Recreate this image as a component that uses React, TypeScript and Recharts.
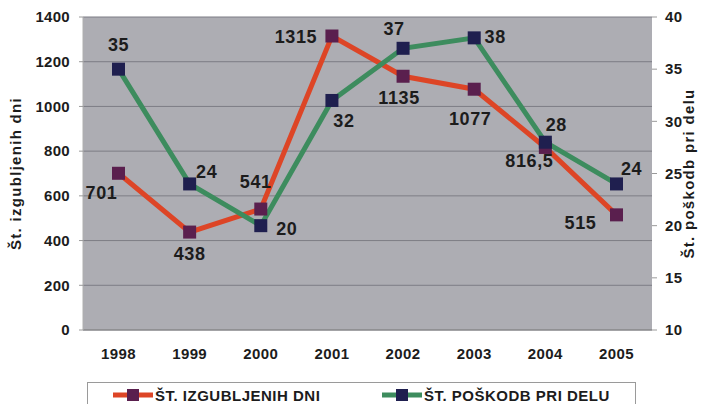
import React from 'react';
import { LineChart, Line, XAxis, YAxis, CartesianGrid, Legend, LabelList } from 'recharts';

const years = ['1998', '1999', '2000', '2001', '2002', '2003', '2004', '2005'];
const lostDays = [701, 438, 541, 1315, 1135, 1077, 816.5, 515];
const injuries = [35, 24, 20, 32, 37, 38, 28, 24];
const leftTicks = [0, 200, 400, 600, 800, 1000, 1200, 1400];
const rightTicks = [10, 15, 20, 25, 30, 35, 40];

const seriesNames = ['ŠT. IZGUBLJENIH DNI', 'ŠT. POŠKODB PRI DELU'];
const leftTitle = 'Št. izgubljenih dni';
const rightTitle = 'Št. poškodb pri delu';

// label placement offsets (dx, dy) relative to point
const daysLabelOffsets = [[-17, 20], [0, 22], [-5, -27], [-36, 1], [-4, 22], [-4, 30], [-16, 14], [-36, 8]];
const injLabelOffsets = [[0, -24], [17, -12], [26, 3], [12, 21], [-9, -19], [21, -1], [11, -17], [15, -15]];

const data = years.map((y, i) => ({ year: y, days: lostDays[i], injuries: injuries[i] }));

const RED = '#dd4526';
const GREEN = '#3d8c5e';
const RED_MARK = '#5a1f4e';
const GREEN_MARK = '#1f1f4f';
const TEXT = '#1c1c1c';
const FONT = 'Arial, "Liberation Sans", sans-serif';

const square = (fill: string) => (props: any) => {
  const { cx, cy, index } = props;
  if (cx == null || cy == null) return <g key={`e${index}`} />;
  return <rect key={`sq${index}`} x={cx - 6.5} y={cy - 6.5} width={13} height={13} fill={fill} />;
};

const valueLabel = (offsets: number[][]) => (props: any) => {
  const { x, y, value, index } = props;
  const off = offsets[index] || [0, 0];
  const txt = String(value).replace('.', ',');
  return (
    <text
      key={`l${index}`}
      x={Number(x) + off[0]}
      y={Number(y) + off[1]}
      textAnchor="middle"
      dominantBaseline="central"
      fontFamily={FONT}
      fontWeight="bold"
      fontSize={18}
      letterSpacing={0.6}
      fill={TEXT}
    >
      {txt}
    </text>
  );
};

const axisTitle = (text: string, cx: number) => (props: any) => {
  const vb = props.viewBox || { y: 17, height: 313 };
  const cy = vb.y + vb.height / 2;
  return (
    <text
      x={cx}
      y={cy}
      transform={`rotate(-90 ${cx} ${cy})`}
      textAnchor="middle"
      dominantBaseline="central"
      fontFamily={FONT}
      fontWeight="bold"
      fontSize={15}
      letterSpacing={1.3}
      fill={TEXT}
    >
      {text}
    </text>
  );
};

const LegendBox = () => {
  const item = (name: string, line: string, mark: string, left: number) => (
    <div style={{ position: 'absolute', left, top: 0, height: 24, display: 'flex', alignItems: 'center' }}>
      <svg width={40} height={14} style={{ display: 'block' }}>
        <line x1={0} y1={7} x2={40} y2={7} stroke={line} strokeWidth={5} />
        <rect x={14} y={1} width={12} height={12} fill={mark} />
      </svg>
      <span
        style={{
          marginLeft: 2,
          fontFamily: FONT,
          fontWeight: 'bold',
          fontSize: 15,
          letterSpacing: 0.5,
          color: TEXT,
          whiteSpace: 'nowrap',
        }}
      >
        {name}
      </span>
    </div>
  );
  return (
    <div style={{ position: 'relative', width: 702, height: 44 }}>
      <div
        style={{
          position: 'absolute',
          left: 87,
          top: 22,
          width: 549,
          height: 26,
          border: '1px solid #9a9a9a',
          background: '#fff',
          boxSizing: 'border-box',
        }}
      >
        {item(seriesNames[0], RED, RED_MARK, 25)}
        {item(seriesNames[1], GREEN, GREEN_MARK, 294)}
      </div>
    </div>
  );
};

export default function App() {
  return (
    <div style={{ position: 'absolute', left: 0, top: 0, width: 702, height: 404, background: '#fff', overflow: 'hidden' }}>
      <LineChart width={702} height={404} data={data} margin={{ top: 17, right: 0, left: 0, bottom: 0 }}>
        <CartesianGrid yAxisId="left" vertical={false} fill="#adadb3" stroke="#7d7d85" strokeWidth={1} />
        <XAxis
          dataKey="year"
          height={30}
          padding={{ left: 35.5, right: 35.5 }}
          tickLine={false}
          tickSize={0}
          tickMargin={18}
          axisLine={{ stroke: '#8a8a8a' }}
          tick={{ fontFamily: FONT, fontWeight: 'bold', fontSize: 15, fill: TEXT, letterSpacing: 0.4 } as any}
          interval={0}
        />
        <YAxis
          yAxisId="left"
          width={83}
          domain={[0, 1400]}
          ticks={leftTicks}
          tickSize={4}
          tickMargin={9}
          tickLine={{ stroke: '#9a9a9a' }}
          axisLine={{ stroke: '#b0b0b0' }}
          tick={{ fontFamily: FONT, fontWeight: 'bold', fontSize: 15, fill: TEXT, letterSpacing: 0.3 } as any}
          label={axisTitle(leftTitle, 15)}
        />
        <YAxis
          yAxisId="right"
          orientation="right"
          width={50}
          domain={[10, 40]}
          ticks={rightTicks}
          tickSize={5}
          tickMargin={8}
          tickLine={{ stroke: '#9a9a9a' }}
          axisLine={false}
          tick={{ fontFamily: FONT, fontWeight: 'bold', fontSize: 15, fill: TEXT, letterSpacing: 0.3 } as any}
          label={axisTitle(rightTitle, 688)}
        />
        <Legend verticalAlign="bottom" height={44} content={() => <LegendBox />} />
        <Line
          yAxisId="left"
          type="linear"
          dataKey="days"
          name={seriesNames[0]}
          stroke={RED}
          strokeWidth={5}
          dot={square(RED_MARK)}
          activeDot={false}
          isAnimationActive={false}
        >
          <LabelList dataKey="days" content={valueLabel(daysLabelOffsets)} />
        </Line>
        <Line
          yAxisId="right"
          type="linear"
          dataKey="injuries"
          name={seriesNames[1]}
          stroke={GREEN}
          strokeWidth={5}
          dot={square(GREEN_MARK)}
          activeDot={false}
          isAnimationActive={false}
        >
          <LabelList dataKey="injuries" content={valueLabel(injLabelOffsets)} />
        </Line>
      </LineChart>
    </div>
  );
}
